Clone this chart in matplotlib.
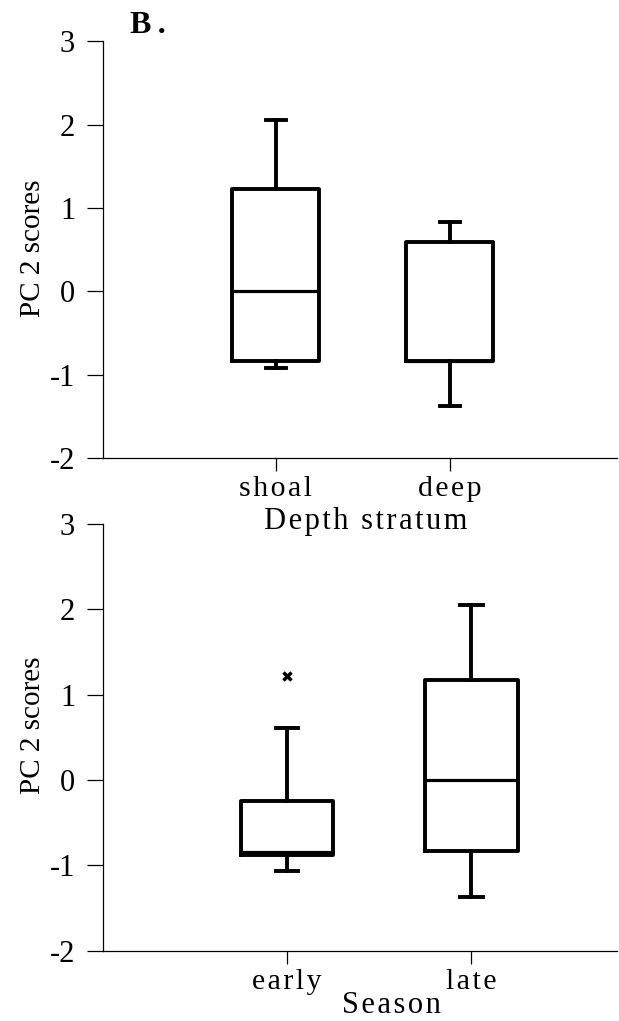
import matplotlib
matplotlib.use("Agg")
import matplotlib.pyplot as plt

plt.rcParams['font.family'] = ['Liberation Serif', 'DejaVu Serif']
plt.rcParams['axes.unicode_minus'] = False

# five-number summaries of PC 2 scores read per group
depth_groups = ['shoal', 'deep']
depth_whislo = [-0.92, -1.38]
depth_q1 = [-0.84, -0.83]
depth_med = [0.0, -0.83]
depth_q3 = [1.23, 0.59]
depth_whishi = [2.06, 0.83]
depth_fliers = [[], []]

season_groups = ['early', 'late']
season_whislo = [-1.07, -1.37]
season_q1 = [-0.875, -0.83]
season_med = [-0.84, 0.0]
season_q3 = [-0.25, 1.17]
season_whishi = [0.61, 2.05]
season_fliers = [[1.22], []]

yticks = [-2, -1, 0, 1, 2, 3]


def spaced(s, gap='\u200a'):
    return gap.join(s)


def make_stats(names, lo, q1, med, q3, hi, fl):
    return [dict(label=n, whislo=a, q1=b, med=c, q3=d, whishi=e, fliers=f)
            for n, a, b, c, d, e, f in zip(names, lo, q1, med, q3, hi, fl)]


fig = plt.figure(figsize=(6.19, 10.21), dpi=100)
ax1 = fig.add_axes([103/619, 1-458/1021, 514/619, 416.5/1021])
ax2 = fig.add_axes([103/619, 1-950.7/1021, 514/619, 426.7/1021])
# keep the upper axis label from being covered by the lower panel
ax2.patch.set_visible(False)
ax1.set_zorder(2)

lw = 2.8
box_kw = dict(
    widths=0.5, capwidths=0.12, showfliers=True, patch_artist=False,
    boxprops=dict(color='black', linewidth=lw),
    whiskerprops=dict(color='black', linewidth=lw),
    capprops=dict(color='black', linewidth=lw),
    medianprops=dict(color='black', linewidth=2.3),
    flierprops=dict(marker='x', markersize=6, markeredgewidth=2.5,
                    markeredgecolor='black'),
)

ax1.bxp(make_stats(depth_groups, depth_whislo, depth_q1, depth_med,
                   depth_q3, depth_whishi, depth_fliers),
        positions=[1, 2], **box_kw)
ax2.bxp(make_stats(season_groups, season_whislo, season_q1, season_med,
                   season_q3, season_whishi, season_fliers),
        positions=[1, 2], **box_kw)

ax1.set_xlim(0.006, 2.96)
ax2.set_xlim(0.0, 2.79)

for ax, groups in ((ax1, depth_groups), (ax2, season_groups)):
    ax.set_ylim(-2, 3)
    ax.set_yticks(yticks)
    ax.set_yticklabels([str(t) for t in yticks])
    ax.set_xticks([1, 2])
    ax.set_xticklabels([spaced(g) for g in groups])
    for side in ('top', 'right'):
        ax.spines[side].set_visible(False)
    for side in ('left', 'bottom'):
        ax.spines[side].set_linewidth(0.9)
    ax.tick_params(axis='y', length=11.5, width=0.9, pad=8.5, labelsize=22)
    ax.tick_params(axis='x', length=9, width=0.9, pad=4, labelsize=21.5)
    ax.set_ylabel('PC 2 scores', fontsize=21, va='center')

ax1.yaxis.set_label_coords(-0.136, 0.504)
ax2.yaxis.set_label_coords(-0.136, 0.529)

ax1.set_xlabel(spaced('Depth stratum'), fontsize=22, va='center')
ax1.xaxis.set_label_coords(0.512, -0.152)
ax2.set_xlabel(spaced('Season'), fontsize=22, va='center')
ax2.xaxis.set_label_coords(0.562, -0.128)

fig.text(130/619, 1-33/1021, 'B\u2009.', fontsize=23, fontweight='bold',
         va='baseline', ha='left')

fig.savefig('out.png', dpi=100)
